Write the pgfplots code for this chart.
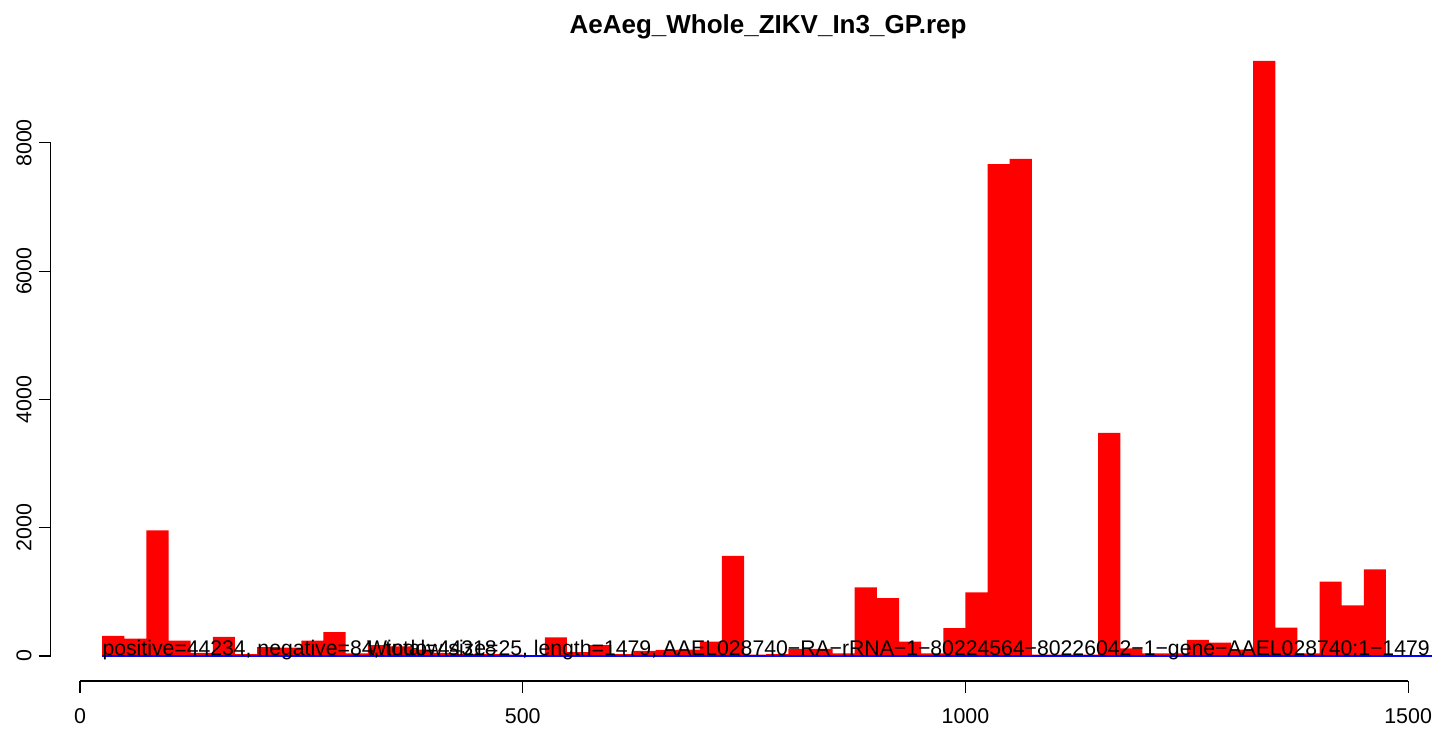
\documentclass[border=0pt]{standalone}
\usepackage{fontspec}
\setmainfont{Liberation Sans}
\usepackage{pgfplots}
\pgfplotsset{compat=1.18}
\begin{document}
\begin{tikzpicture}
\begin{axis}[
  scale only axis, width=690.65pt, height=322pt,
  xmin=-33.1, xmin=-33.1, xmax=1527, ymin=-390, ymax=9651,
  axis line style={draw=none},
  xtick={0,500,1000,1500}, ytick={0,2000,4000,6000,8000},
  tick align=outside, xtick pos=bottom, ytick pos=left,
  major tick length=6pt,
  tick style={black, line width=0.6pt},
  ticklabel style={font=\fontsize{10.7}{13}\selectfont},
  xticklabel style={yshift=-4pt},
  yticklabel style={rotate=90, anchor=south},
  /pgf/number format/assume math mode=true,
  scaled ticks=false, /pgf/number format/set thousands separator={},
  clip=false,
]
\addplot[ybar interval, fill=red, draw=none] coordinates {
(25,312) (50,270) (75,1960) (100,240) (125,50) (150,300) (175,30) (200,140)
(225,130) (250,240) (275,374) (300,40) (325,170) (350,150) (375,100) (400,50)
(425,30) (450,30) (475,20) (500,10) (525,290) (550,60) (575,170) (600,30)
(625,80) (650,94) (675,100) (700,223) (725,1560) (750,20) (775,30) (800,110)
(825,110) (850,40) (875,1070) (900,904) (925,223) (950,40) (975,436) (1000,993)
(1025,7670) (1050,7750) (1075,20) (1100,20) (1125,20) (1150,3480) (1175,120) (1200,40)
(1225,40) (1250,250) (1275,208) (1300,100) (1325,9280) (1350,441) (1375,40) (1400,1160)
(1425,790) (1450,1350) (1475,0)
};
\addplot[blue, line width=0.8pt] coordinates {(25,0) (1527,0)};
\draw[black, line width=0.6pt] (axis cs:0,-390) -- (axis cs:1500,-390);
\draw[black, line width=0.6pt] (axis cs:-33.1,0) -- (axis cs:-33.1,8000);
\node[anchor=base west, inner sep=0pt, font=\fontsize{10.6}{13}\selectfont] at (axis cs:25,0) {positive=44234, negative=84, total=44318};
\node[anchor=base east, inner sep=0pt, font=\fontsize{10.6}{13}\selectfont] at (axis cs:1525,0) {Window size=25, length=1479, AAEL028740−RA−rRNA−1−80224564−80226042−1−gene−AAEL028740:1−1479};
\end{axis}
\node[font=\bfseries\fontsize{13}{15}\selectfont] at (358.65pt,327pt) {AeAeg\_Whole\_ZIKV\_In3\_GP.rep};
\pgfresetboundingbox
\path[use as bounding box] (-25.35pt,-24pt) rectangle (691.15pt,340.5pt);
\end{tikzpicture}
\end{document}
